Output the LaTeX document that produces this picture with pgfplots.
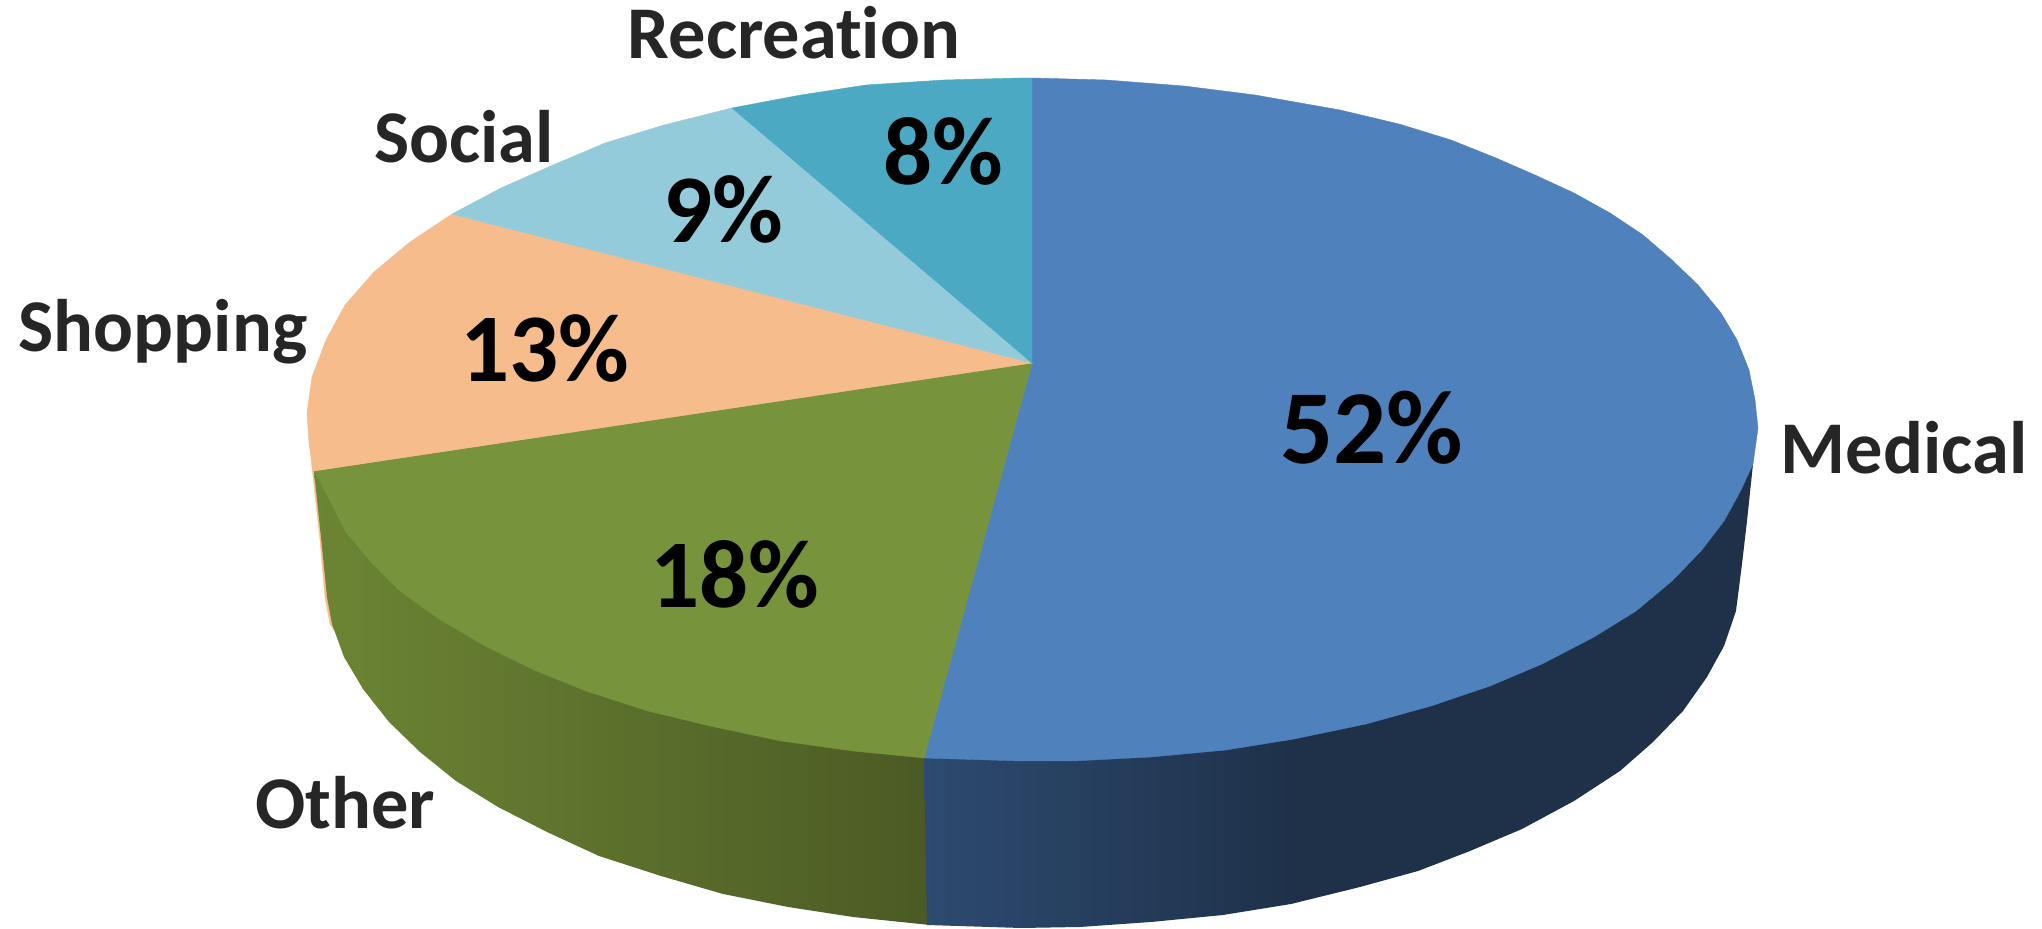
\documentclass[border=0pt]{standalone}
\usepackage{pgfplots}
\pgfplotsset{compat=1.18}
\usepackage{fontspec}
\setmainfont[Ligatures=NoCommon]{Carlito}

\definecolor{medical}{HTML}{4F81BD}
\definecolor{other}{HTML}{77933C}
\definecolor{shopping}{HTML}{F6BC8C}
\definecolor{social}{HTML}{93CBDB}
\definecolor{recreation}{HTML}{4BA9C4}
\definecolor{sideblueA}{HTML}{2D4A70}
\definecolor{sideblueB}{HTML}{1E3149}
\definecolor{sidegreenA}{HTML}{6C8534}
\definecolor{sidegreenB}{HTML}{4B5A24}
\definecolor{labeltext}{HTML}{262626}

\begin{document}
\begin{tikzpicture}
\begin{axis}[
    scale only axis,
    width=1021pt,
    height=464.5pt,
    xmin=0, xmax=2042,
    ymin=0, ymax=929,
    y dir=reverse,
    hide axis,
    clip=false,
]
    % keeps the page as large as the whole axis
    \addplot[draw=none] coordinates {(0,0)(2042,929)};

    % peach sliver on the side
    \addplot[fill=shopping, draw=shopping, line width=0.2pt] coordinates {
        (309,440)(314,471)(334,630)(330,624)(325,597)(320,540)
    } -- cycle;

    % side walls
    \addplot[draw=none, left color=sidegreenA, right color=sidegreenB] coordinates {
        (314,471)(322,547)(327,597)(332,624)(344,657)(363,689)(389,722)(420,752)
        (456,781)(498,807)(547,832)(599,856)(661,876)(723,894)(788,907)(853,917)
        (930,925)(930,758)(600,560)
    } -- cycle;
    \addplot[fill=sideblueB, draw=none] coordinates {
        (1285,740)(1285,904)(1291,904)
        (1360,887)(1418,871)(1470,851)(1522,829)(1574,801)(1620,771)(1653,742)
        (1683,711)(1707,677)(1724,646)(1736,611)(1742,564)(1747,521)(1753,464)
        (1500,500)
    } -- cycle;
    \addplot[draw=none, left color=sideblueA, right color=sideblueB] coordinates {
        (924,758)(927,925)(1021,928)(1080,927)(1151,922)(1223,915)(1291,904)
        (1291,740)
    } -- cycle;

    % top surface
    \addplot[fill=medical, draw=medical, line width=0.2pt] coordinates {
        (1032,363)(1032,78)(1106,80)(1184,86)(1255,95)(1340,110)(1399,124)(1451,140)
        (1496,158)(1535,175)(1574,193)(1610,213)(1643,235)(1672,260)(1698,285)
        (1721,313)(1737,340)(1749,370)(1755,400)(1758,428)(1753,464)(1740,492)
        (1724,521)(1701,551)(1672,581)(1636,611)(1594,637)(1542,664)(1490,686)
        (1431,706)(1366,724)(1294,739)(1226,750)(1151,757)(1073,761)(1021,761)
        (924,758)
    } -- cycle;
    \addplot[fill=other, draw=other, line width=0.2pt] coordinates {
        (1032,363)(924,758)(853,751)(781,741)(710,726)(648,711)(586,691)(534,670)
        (485,646)(439,619)(400,591)(371,562)(345,531)(329,499)(314,471)
    } -- cycle;
    \addplot[fill=shopping, draw=shopping, line width=0.2pt] coordinates {
        (1032,363)(314,471)(309,443)(307,413)(312,377)(326,340)(345,305)(374,272)
        (410,242)(452,214)
    } -- cycle;
    \addplot[fill=social, draw=social, line width=0.2pt] coordinates {
        (1032,363)(452,214)(501,188)(553,165)(605,143)(664,125)(732,108)
    } -- cycle;
    \addplot[fill=recreation, draw=recreation, line width=0.2pt] coordinates {
        (1032,363)(732,108)(801,95)(866,85)(944,80)(1021,78)(1032,78)
    } -- cycle;

    % category labels
    \begin{scope}[every node/.style={anchor=base, inner sep=0pt, font=\fontsize{37.2}{37.2}\selectfont\bfseries, text=labeltext}]
    \node at (axis cs:794,59) {Recreation};
    \node at (axis cs:464,163) {Social};
    \node at (axis cs:163,352) {Shopping};
    \node at (axis cs:1904,474) {Medical};
    \node at (axis cs:345,829) {Other};
    \end{scope}

    % percentages
    \begin{scope}[every node/.style={anchor=base, inner sep=0pt, font=\fontsize{48.5}{48.5}\selectfont\bfseries, text=black}]
    \node at (axis cs:943,185) {8\%};
    \node at (axis cs:723,243) {9\%};
    \node at (axis cs:545,382) {13\%};
    \node at (axis cs:735,608) {18\%};
    \end{scope}
    \node[anchor=base, inner sep=0pt, font=\fontsize{52.5}{52.5}\selectfont\bfseries, text=black] at (axis cs:1372,464) {52\%};
\end{axis}
\end{tikzpicture}
\end{document}
